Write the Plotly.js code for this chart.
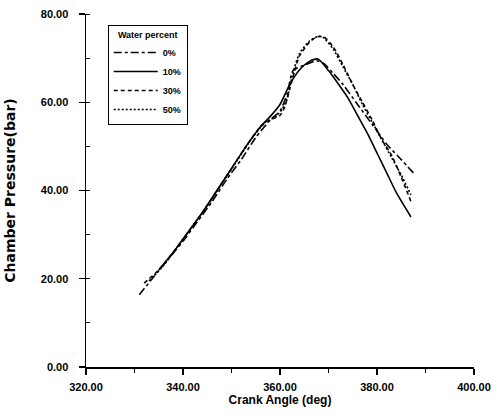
<!DOCTYPE html>
<html>
<head>
<meta charset="utf-8">
<script src="https://cdn.plot.ly/plotly-3.0.1.min.js"></script>
<style>html,body{margin:0;padding:0;background:#fff}#chart{width:492px;height:414px}</style>
</head>
<body>
<div id="chart"></div>
<script>
// Series names
const seriesNames = ["0%", "10%", "30%", "50%"];

// 0% water (long dash)
const x0 = [331, 334, 337, 340, 343, 346, 349, 352, 355, 358, 360, 361.5, 362.7, 365, 367.5, 369, 371, 373, 376, 379, 382, 385, 387.5];
const y0 = [16.4, 20.5, 24.5, 28.5, 33, 37.5, 42.5, 47, 52, 56, 58, 62, 67.2, 68.4, 69.4, 68.8, 66.5, 64, 59.5, 55, 50.5, 47, 44];

// 10% water (solid)
const x10 = [335, 338, 341, 344, 347, 350, 353, 356, 358, 360, 362, 364, 366, 367.8, 370, 372, 374, 376, 378, 380, 382, 384, 387];
const y10 = [22, 26, 30.5, 35, 40, 45, 50, 54.5, 56.8, 59.5, 64, 67.3, 69.2, 69.8, 67.2, 64.2, 61, 57, 53, 48.5, 44, 39.5, 34];

// 30% water (dashed)
const x30 = [332, 335, 338, 341, 344, 347, 350, 353, 356, 358, 360, 361, 362, 363, 364, 366, 367.5, 369, 371, 373, 375, 377, 379, 381, 383, 385, 387];
const y30 = [19, 22, 26, 30.5, 35, 40, 45, 50, 54.5, 56, 57, 59, 63, 67, 70.5, 73.5, 74.8, 74.8, 72.5, 68.5, 64, 60, 56, 51.5, 48, 43, 37.5];

// 50% water (dotted)
const x50 = [333, 336, 339, 342, 345, 348, 351, 354, 357, 359, 360.5, 361.5, 362.7, 364, 366, 368, 369, 371, 373, 375, 377, 379, 381, 383, 385, 387];
const y50 = [19.5, 23, 27.5, 32, 36.5, 41.5, 46.5, 51.5, 55.5, 56.6, 58.5, 61, 66.8, 71, 73.8, 75, 74.6, 72, 68, 64, 59.5, 55.5, 51.5, 47.5, 43.5, 39];

// Axis ticks
const xTicks = [320, 340, 360, 380, 400];
const xTickLabels = ["320.00", "340.00", "360.00", "380.00", "400.00"];
const yTicks = [0, 20, 40, 60, 80];
const yTickLabels = ["0.00", "20.00", "40.00", "60.00", "80.00"];

const dashes = ["8px,3px,3px,3px", "solid", "4px,3px", "2px,2px"];
const xs = [x0, x10, x30, x50];
const ys = [y0, y10, y30, y50];

const traces = seriesNames.map((n, i) => ({
  x: xs[i], y: ys[i], name: n, type: "scatter", mode: "lines",
  line: {color: "#000", width: 1.6, dash: dashes[i], shape: "spline", smoothing: 0.6}
}));

const FONT = "Liberation Sans, Arial, sans-serif";
const layout = {
  width: 492, height: 414,
  margin: {l: 86, r: 18, t: 14, b: 47, pad: 0},
  paper_bgcolor: "#fff", plot_bgcolor: "#fff",
  showlegend: true,
  font: {family: FONT, color: "#000", size: 10, weight: "bold"},
  xaxis: {
    range: [320, 400], tickvals: xTicks, ticktext: xTickLabels,
    showgrid: false, zeroline: false, showline: true, linecolor: "#000", linewidth: 1.5,
    ticks: "outside", ticklen: 6, tickwidth: 1.3, tickcolor: "#000",
    tickfont: {family: FONT, size: 11, weight: "bold", color: "#000"},
    ticklabelstandoff: 3,
    minor: {dtick: 10, tick0: 320, ticks: "outside", ticklen: 4, tickwidth: 1, tickcolor: "#000", showgrid: false},
    title: {text: "Crank Angle (deg)", font: {family: FONT, size: 12, weight: "bold", color: "#000"}, standoff: 3}
  },
  yaxis: {
    range: [0, 80], tickvals: yTicks, ticktext: yTickLabels,
    showgrid: false, zeroline: false, showline: true, linecolor: "#000", linewidth: 1.5,
    ticks: "outside", ticklen: 6, tickwidth: 1.3, tickcolor: "#000",
    tickfont: {family: FONT, size: 11, weight: "bold", color: "#000"},
    ticklabelstandoff: 8,
    minor: {dtick: 10, tick0: 0, ticks: "inside", ticklen: 4, tickwidth: 1, tickcolor: "#000", showgrid: false},
    title: {text: "Chamber Pressure(bar)", font: {family: "DejaVu Sans, sans-serif", size: 14, weight: "bold", color: "#000"}, standoff: 22}
  },
  legend: {
    x: 0.056, y: 0.968, xanchor: "left", yanchor: "top",
    bgcolor: "#fff", bordercolor: "#000", borderwidth: 1,
    font: {family: FONT, size: 9, weight: "bold", color: "#000"},
    title: {text: "Water percent", side: "top center", font: {family: FONT, size: 9, weight: "bold", color: "#000"}},
    itemwidth: 44, tracegroupgap: 0
  }
};

Plotly.newPlot("chart", traces, layout, {displayModeBar: false, staticPlot: true});
</script>
</body>
</html>
